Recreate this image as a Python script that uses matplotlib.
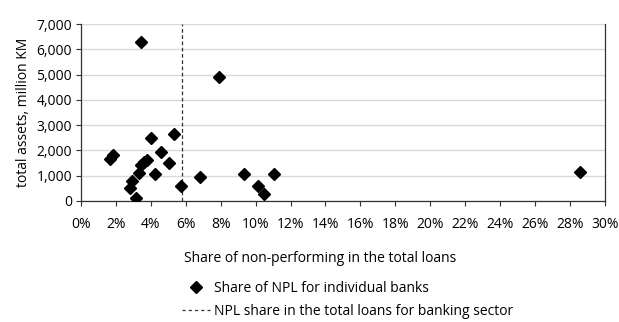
import matplotlib
matplotlib.use("Agg")
import matplotlib.pyplot as plt
from matplotlib.lines import Line2D
from matplotlib.ticker import FuncFormatter

plt.rcParams['font.family'] = ['Open Sans', 'DejaVu Sans']

# NPL share (%) and total assets (million KM) per bank
npl_share = [1.68, 1.85, 3.45, 7.92, 3.99, 5.31, 4.58, 3.78, 3.61, 3.42, 5.05, 3.30,
             4.24, 2.90, 2.82, 3.17, 5.74, 6.79, 9.35, 10.13, 10.49, 11.03, 28.56]
total_assets = [1650, 1820, 6290, 4890, 2510, 2650, 1950, 1620, 1530, 1430, 1490, 1110,
                1070, 770, 500, 130, 590, 960, 1070, 590, 270, 1070, 1150]
sector_npl = 5.8

x_ticks = list(range(0, 31, 2))
y_ticks = list(range(0, 7001, 1000))

fs = 10

fig = plt.figure(figsize=(6.19, 3.22), dpi=100)
ax = fig.add_axes([0.131, 0.376, 0.846, 0.549])

ax.plot(npl_share, total_assets, linestyle='none', marker='D', markersize=6,
        color='black', zorder=3)
ax.plot([sector_npl, sector_npl], [0, 7000], color='#333333', linestyle=(0, (3, 2)),
        linewidth=0.9, zorder=2)

ax.set_xlim(0, 30)
ax.set_ylim(0, 7000)
ax.set_xticks(x_ticks)
ax.set_yticks(y_ticks)
ax.xaxis.set_major_formatter(FuncFormatter(lambda v, p: f"{int(v)}%"))
ax.yaxis.set_major_formatter(FuncFormatter(lambda v, p: f"{int(v):,}"))
ax.tick_params(axis='both', direction='out', length=3.5, width=0.8, color='#333333',
               labelsize=fs, colors='black')
ax.tick_params(axis='x', pad=8)
ax.tick_params(axis='y', pad=3)

ax.grid(axis='y', color='#d9d9d9', linewidth=1)
ax.set_axisbelow(True)
ax.spines['top'].set_visible(False)
for s in ['left', 'bottom', 'right']:
    ax.spines[s].set_color('#333333')
    ax.spines[s].set_linewidth(0.9)

ax.set_ylabel("total assets, million KM", fontsize=fs, labelpad=4)

fig.text(320 / 619, 1 - 258 / 322, "Share of non-performing in the total loans",
         ha='center', va='center', fontsize=fs)

handles = [
    Line2D([], [], linestyle='none', marker='D', markersize=6, color='black'),
    Line2D([], [], color='#333333', linestyle=(0, (2.5, 2.5)), linewidth=0.9),
]
labels = ["Share of NPL for individual banks",
          "NPL share in the total loans for banking sector"]
fig.legend(handles, labels, loc='upper left', bbox_to_anchor=(182 / 619, 1 - 281 / 322),
           frameon=False, fontsize=fs, borderpad=0, borderaxespad=0,
           handlelength=2.0, handletextpad=0.3, labelspacing=0.6)

fig.savefig("out.png", dpi=100)
